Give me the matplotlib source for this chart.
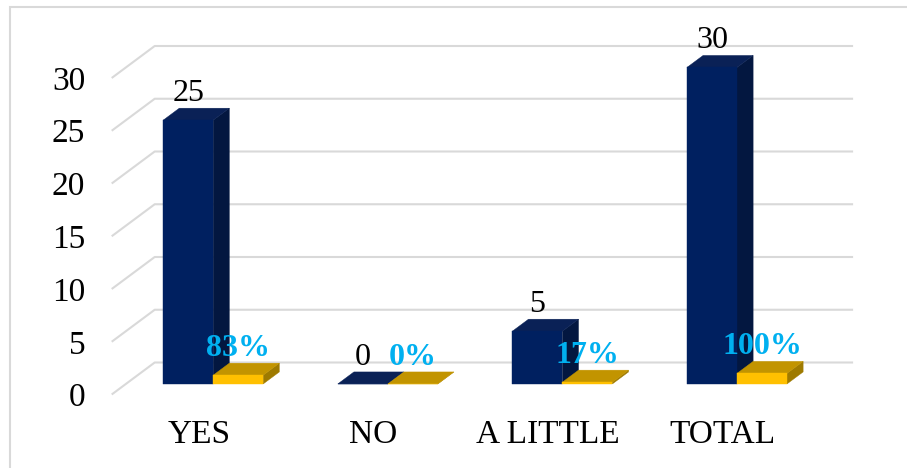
import matplotlib
matplotlib.use("Agg")
import matplotlib.pyplot as plt
from matplotlib.patches import Polygon, Rectangle

# Survey answers: number of respondents and share of the total
categories = ["YES", "NO", "A LITTLE", "TOTAL"]
counts = [25, 0, 5, 30]
shares = [0.83, 0.00, 0.17, 1.00]
share_labels = ["83%", "0%", "17%", "100%"]
y_ticks = [0, 5, 10, 15, 20, 25, 30]

plt.rcParams["font.family"] = ["Liberation Serif", "DejaVu Serif"]

W, H = 907, 468
fig = plt.figure(figsize=(W / 100, H / 100), dpi=100)
fig.patch.set_facecolor("white")

# Front (floor edge) plane of the oblique 3-D view
ax = fig.add_axes([111.7 / W, (H - 394.5) / H, 698.4 / W, 316.5 / H])
ax.set_xlim(-0.5, 3.5)
ax.set_ylim(0, 30)
for s in ax.spines.values():
    s.set_visible(False)
ax.patch.set_visible(False)

# Depth direction of the oblique projection, in pixels (right, up)
DEPTH_PX = (43.0, 32.0)
o = ax.transData.transform((0, 0))
ux = ax.transData.transform((1, 0))[0] - o[0]
uy = ax.transData.transform((0, 1))[1] - o[1]
kx, kv = DEPTH_PX[0] / ux, DEPTH_PX[1] / uy


def P(x, v, d):
    """Project (category x, value v, depth d in [0, 1]) onto the front plane."""
    return (x + d * kx, v + d * kv)


GRID = "#D9D9D9"
for t in y_ticks:
    pts = [P(-0.5, t, 0), P(-0.5, t, 1), P(3.5, t, 1)]
    ax.plot([p[0] for p in pts], [p[1] for p in pts], color=GRID, lw=1.5,
            clip_on=False, zorder=0, solid_capstyle="butt")

D_FRONT, D_BACK = 0.33, 0.705
BAR_W = 0.2864

NAVY = ("#002060", "#0A2156", "#031740")
GOLD = ("#FFC000", "#C29400", "#9E7A00")


def draw_box(x0, x1, h, colors, z):
    front, top, side = colors
    faces = [
        ([P(x1, 0, D_FRONT), P(x1, 0, D_BACK), P(x1, h, D_BACK), P(x1, h, D_FRONT)], side),
        ([P(x0, h, D_FRONT), P(x1, h, D_FRONT), P(x1, h, D_BACK), P(x0, h, D_BACK)], top),
        ([P(x0, 0, D_FRONT), P(x1, 0, D_FRONT), P(x1, h, D_FRONT), P(x0, h, D_FRONT)], front),
    ]
    for verts, c in faces:
        ax.add_patch(Polygon(verts, closed=True, facecolor=c, edgecolor=c,
                             lw=0.3, clip_on=False, zorder=z))


for i, (n, sh) in enumerate(zip(counts, shares)):
    draw_box(i - BAR_W, i, n, NAVY, 2 + 2 * i)
    draw_box(i, i + BAR_W, sh, GOLD, 3 + 2 * i)

for i, (n, sh, lab) in enumerate(zip(counts, shares, share_labels)):
    ax.annotate(str(n), xy=P(i - BAR_W / 2, n, D_FRONT), xytext=(0, 19),
                textcoords="offset pixels", ha="center", va="baseline",
                fontsize=23, color="black", zorder=20, annotation_clip=False)
    ax.annotate(lab, xy=P(i + BAR_W / 2, sh, D_FRONT), xytext=(0, 19),
                textcoords="offset pixels", ha="center", va="baseline",
                fontsize=23, fontweight="bold", color="#00B0F0", zorder=21,
                annotation_clip=False)

ax.set_xticks(range(len(categories)), categories)
ax.set_yticks(y_ticks, [str(t) for t in y_ticks])
ax.tick_params(axis="x", length=0, pad=18, labelsize=24, colors="black")
ax.tick_params(axis="y", length=0, pad=19, labelsize=24, colors="black")

# Chart area border
fig.patches.append(Rectangle((10 / W, -0.1), 1.2, 1 - 7 / H + 0.1,
                             transform=fig.transFigure, fill=False,
                             edgecolor=GRID, lw=1.5))

fig.savefig("out.png", dpi=100, facecolor="white")
